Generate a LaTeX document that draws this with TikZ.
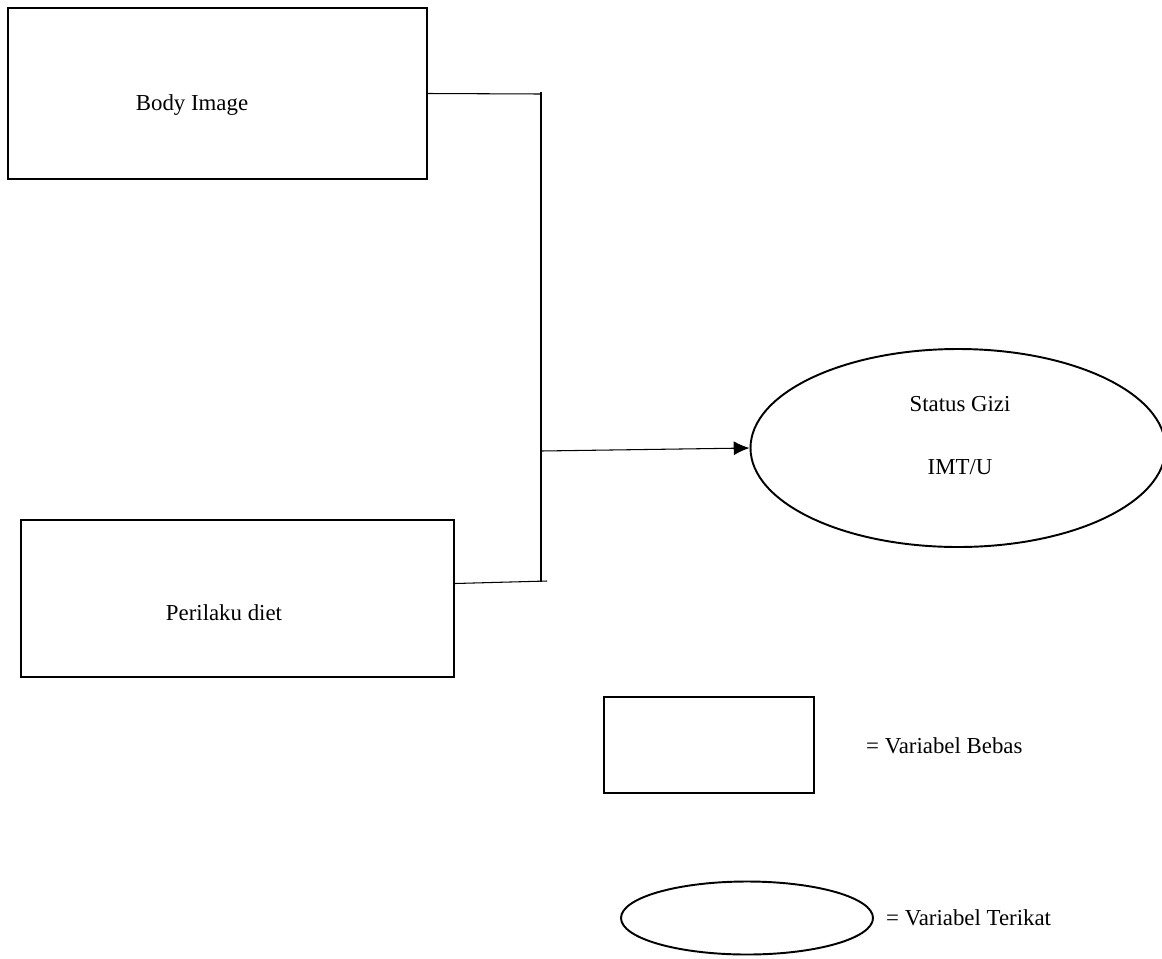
\documentclass[tikz,border=0pt]{standalone}
\usepackage{fontspec}
\setmainfont{Liberation Serif}
\usetikzlibrary{arrows.meta,shapes.geometric}
\tikzset{
  varbox/.style={draw, line width=1.1pt, rectangle, inner sep=0pt},
  varoval/.style={draw, line width=1.1pt, ellipse, inner sep=0pt},
  link/.style={line width=0.6pt},
  lbl/.style={font=\fontsize{13}{15}\selectfont}
}
\begin{document}
\begin{tikzpicture}
\clip (0,0) rectangle (23.24,-19.16);

% Variabel bebas
\node[varbox, minimum width=8.38cm, minimum height=3.42cm] (body) at (4.35,-1.87) {};
\node[lbl] (bodytxt) at (3.84,-2.1) {Body Image};
\node[varbox, minimum width=8.66cm, minimum height=3.14cm] (diet) at (4.75,-11.97) {};
\node[lbl] (diettxt) at (4.48,-12.26) {Perilaku diet};

% Variabel terikat
\node[varoval, minimum width=8.3cm, minimum height=3.96cm] (gizi) at (19.16,-8.96) {};
\node[lbl] (gizitxt) at (19.2,-8.08) {Status Gizi};
\node[lbl] (imttxt) at (19.2,-9.34) {IMT/U};

% Connectors
\coordinate (jtop) at (10.82,-1.84);
\coordinate (jbot) at (10.82,-11.64);
\coordinate (jmid) at (10.82,-9.02);
\coordinate (dend) at (10.94,-11.62);
\draw[link] (body.east) -- (10.82,-1.88);
\draw[link] (jtop) -- (jbot);
\draw[link] ([yshift=0.3cm]diet.east) -- (dend);
\draw[link, -{Latex[length=9pt,width=8pt]}] (jmid) -- (gizi.west);

% Keterangan
\node[varbox, minimum width=4.2cm, minimum height=1.92cm] (kbox) at (14.18,-14.9) {};
\node[lbl, anchor=west] (kboxtxt) at (17.2,-14.92) {= Variabel Bebas};
\node[varoval, minimum width=5.04cm, minimum height=1.46cm] (koval) at (14.94,-18.36) {};
\node[lbl, anchor=west] (kovaltxt) at (17.6,-18.36) {= Variabel Terikat};
\end{tikzpicture}
\end{document}
